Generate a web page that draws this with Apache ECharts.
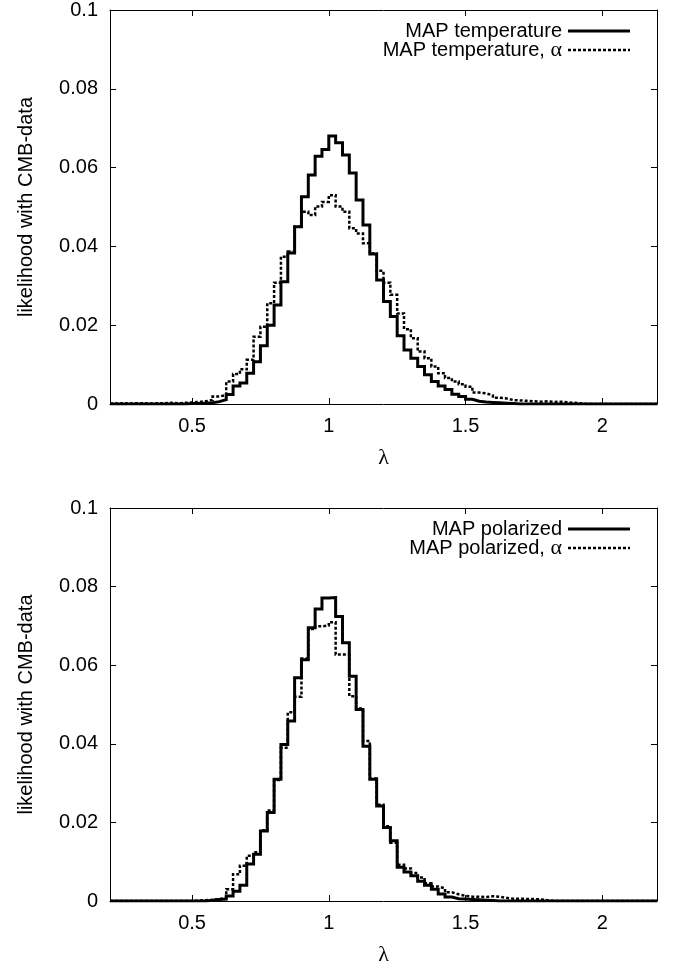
<!DOCTYPE html>
<html>
<head>
<meta charset="utf-8">
<script src="https://cdn.jsdelivr.net/npm/echarts@6/dist/echarts.min.js"></script>
<style>
html,body{margin:0;padding:0;background:#fff;}
#chart{width:673px;height:967px;}
</style>
</head>
<body>
<div id="chart"></div>
<script>
// ---- data ----
var binStart = 0.2;
var binWidth = 0.025;
var xTicks = [0.5, 1, 1.5, 2];
var yTicks = [0, 0.02, 0.04, 0.06, 0.08, 0.1];
var legendTop = ["MAP temperature", "MAP temperature, "];
var legendBottom = ["MAP polarized", "MAP polarized, "];
var greekAlpha = "\u03b1";
var xName = "\u03bb";
var yName = "likelihood with CMB-data";

// bin values, bins start at 0.2 with width 0.025 (80 bins up to 2.2)
var tempSolid = [
 0,0,0,0,0,0,0,0,0,0,0,0.0001,0.0001,0.0002,0.0003,0.0006,
 0.0011,0.0024,0.0046,0.0053,0.0078,0.0107,0.0148,0.0200,0.0251,0.0310,0.0383,0.0450,
 0.0526,0.0581,0.0629,0.0646,0.0680,0.0663,0.0632,0.0586,0.0518,0.0454,0.0381,0.0315,
 0.0260,0.0222,0.0173,0.0137,0.0116,0.0095,0.0074,0.0057,0.0046,0.0037,0.0025,0.0019,
 0.0012,0.0007,0.0005,0.0004,0.0003,0.0002,0.0001,0,0,0,0,0,0,0,0,0,0,0,0,0,0,0,0,0,0,0,0,0
];
var tempAlpha = [
 0.0001,0.0002,0.0001,0.0002,0.0002,0.0001,0.0002,0.0002,0.0003,0.0002,0.0003,0.0004,
 0.0005,0.0007,0.0010,0.0019,0.0023,0.0057,0.0076,0.0088,0.0112,0.0171,0.0196,0.0256,
 0.0308,0.0374,0.0387,0.0450,0.0488,0.0480,0.0501,0.0513,0.0530,0.0501,0.0488,0.0446,
 0.0433,0.0408,0.0382,0.0338,0.0308,0.0277,0.0230,0.0190,0.0167,0.0133,0.0116,0.0095,
 0.0078,0.0066,0.0057,0.0050,0.0044,0.0029,0.0027,0.0022,0.0016,0.0014,0.0010,0.0009,
 0.0008,0.0007,0.0006,0.0007,0.0005,0.0006,0.0004,0.0003,0.0001,0,0,0,0,0,0,0,0,0,0,0
];
var polSolid = [
 0,0,0,0,0,0,0,0,0,0,0,0,0,0,0.0002,0.0004,
 0.0005,0.0013,0.0025,0.0040,0.0094,0.0119,0.0178,0.0225,0.0310,0.0398,0.0458,0.0568,
 0.0614,0.0695,0.0743,0.0771,0.0772,0.0724,0.0657,0.0572,0.0487,0.0394,0.0310,0.0242,
 0.0187,0.0153,0.0086,0.0074,0.0064,0.0050,0.0040,0.0030,0.0018,0.0010,0.0006,0.0005,
 0.0004,0.0003,0.0002,0.0001,0,0,0,0,0,0,0,0,0,0,0,0,0,0,0,0,0,0,0,0,0,0,0,0
];
var polAlpha = [
 0,0,0,0,0,0,0,0,0,0,0,0,0.0001,0.0002,0.0003,0.0005,
 0.0008,0.0030,0.0068,0.0090,0.0115,0.0124,0.0180,0.0230,0.0308,0.0390,0.0480,0.0520,
 0.0617,0.0692,0.0699,0.0701,0.0709,0.0627,0.0627,0.0521,0.0490,0.0407,0.0312,0.0245,
 0.0190,0.0148,0.0092,0.0083,0.0071,0.0060,0.0045,0.0037,0.0032,0.0022,0.0017,0.0013,
 0.0011,0.0011,0.0010,0.0012,0.0011,0.0008,0.0006,0.0006,0.0005,0.0005,0.0004,0.0002,
 0,0,0,0,0,0,0,0,0,0,0,0,0,0,0,0
];

// ---- build ----
function toSteps(vals){
  var out = [];
  for (var i = 0; i < vals.length; i++) {
    out.push([+(binStart + i*binWidth).toFixed(4), vals[i]]);
  }
  out.push([+(binStart + vals.length*binWidth).toFixed(4), vals[vals.length-1]]);
  return out;
}

var FONT = "'Liberation Sans', Arial, Helvetica, sans-serif";
var SERIF = "'Liberation Serif', 'DejaVu Serif', serif";
var grids = [
  {left:110, right:16, top:10, height:394},
  {left:110, right:16, top:508, height:394}
];

function xAxes(gi){
  var base = {
    type:'value', gridIndex:gi, min:0.2, max:2.2,
    axisLine:{show:true, onZero:false, lineStyle:{color:'#000', width:1}},
    splitLine:{show:false},
    axisTick:{show:true, inside:true, length:6, customValues:xTicks, lineStyle:{color:'#000', width:1}}
  };
  var bottom = Object.assign({}, base, {
    position:'bottom',
    axisLabel:{show:true, customValues:xTicks, color:'#000', fontSize:20, fontFamily:FONT, margin:12},
    name:xName, nameLocation:'middle', nameGap:43,
    nameTextStyle:{color:'#000', fontSize:22, fontFamily:SERIF}
  });
  var top = Object.assign({}, base, {position:'top', axisLabel:{show:false}});
  return [bottom, top];
}
function yAxes(gi){
  var base = {
    type:'value', gridIndex:gi, min:0, max:0.1, interval:0.02,
    axisLine:{show:true, onZero:false, lineStyle:{color:'#000', width:1}},
    splitLine:{show:false},
    axisTick:{show:true, inside:true, length:6, lineStyle:{color:'#000', width:1}}
  };
  var left = Object.assign({}, base, {
    position:'left',
    axisLabel:{show:true, color:'#000', fontSize:20, fontFamily:FONT, margin:12},
    name:yName, nameLocation:'middle', nameGap:74, nameRotate:90,
    nameTextStyle:{color:'#000', fontSize:20, fontFamily:FONT}
  });
  var right = Object.assign({}, base, {position:'right', axisLabel:{show:false}});
  return [left, right];
}

var xa = xAxes(0).concat(xAxes(1));
var ya = yAxes(0).concat(yAxes(1));

function solidSeries(vals, xi, yi, name){
  return {type:'line', name:name, xAxisIndex:xi, yAxisIndex:yi, step:'end', showSymbol:false,
    data:toSteps(vals), lineStyle:{color:'#000', width:3, type:'solid', join:'miter'}, animation:false, silent:true};
}
function dashSeries(vals, xi, yi, name){
  return {type:'line', name:name, xAxisIndex:xi, yAxisIndex:yi, step:'end', showSymbol:false,
    data:toSteps(vals), lineStyle:{color:'#000', width:2.5, type:[3,2], join:'miter'}, animation:false, silent:true};
}

function legendGraphic(topY, names){
  var els = [];
  var rows = [topY + 21, topY + 40];
  els.push({type:'text', x:562, y:rows[0],
    style:{text:names[0], fill:'#000', font:'20px ' + FONT, align:'right', verticalAlign:'middle'}});
  els.push({type:'text', x:562, y:rows[1],
    style:{text:names[1] + '{a|' + greekAlpha + '}', fill:'#000', font:'20px ' + FONT, align:'right', verticalAlign:'middle',
      rich:{a:{font:'22px ' + SERIF, fill:'#000'}}}});
  els.push({type:'line', shape:{x1:568, y1:rows[0], x2:630, y2:rows[0]},
    style:{stroke:'#000', lineWidth:3}});
  els.push({type:'line', shape:{x1:568, y1:rows[1], x2:630, y2:rows[1]},
    style:{stroke:'#000', lineWidth:2.5, lineDash:[3,2]}});
  return els;
}

var option = {
  backgroundColor:'#fff',
  animation:false,
  grid:grids,
  xAxis:xa,
  yAxis:ya,
  series:[
    solidSeries(tempSolid, 0, 0, legendTop[0]),
    dashSeries(tempAlpha, 0, 0, legendTop[1] + greekAlpha),
    solidSeries(polSolid, 2, 2, legendBottom[0]),
    dashSeries(polAlpha, 2, 2, legendBottom[1] + greekAlpha)
  ],
  graphic: legendGraphic(10, legendTop).concat(legendGraphic(508, legendBottom))
};

var chart = echarts.init(document.getElementById('chart'), null, {renderer:'canvas'});
chart.setOption(option);
</script>
</body>
</html>
